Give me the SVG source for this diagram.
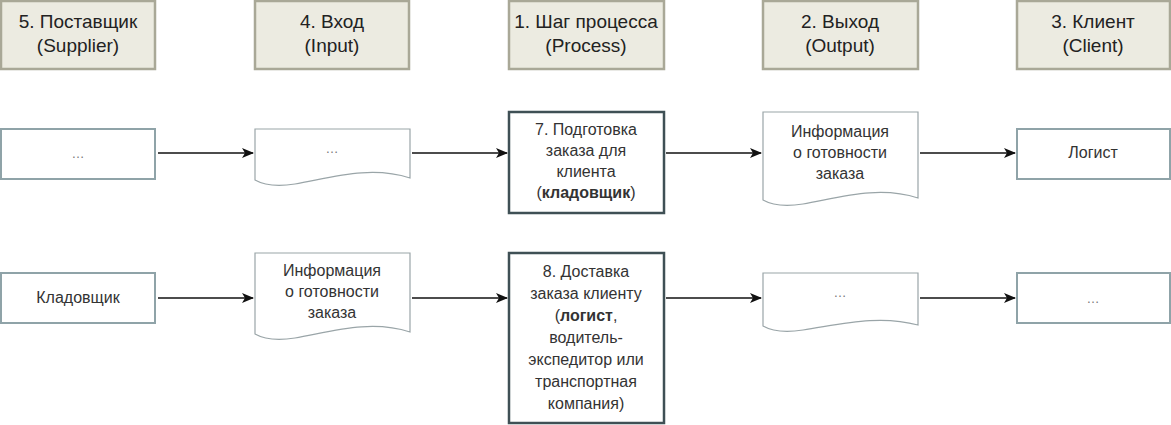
<svg xmlns="http://www.w3.org/2000/svg" width="1171" height="425" viewBox="0 0 1171 425">
<style>
text{font-family:"Liberation Sans",Arial,sans-serif;font-size:16px;fill:#333;text-anchor:middle}
.ht{font-size:19px;fill:#222}
.h{fill:#ecebe1;stroke:#a9a897;stroke-width:2.5}
.n{fill:#fff;stroke:#8fa3a8;stroke-width:2}
.p{fill:#fff;stroke:#3f5055;stroke-width:2.5}
.d{fill:#fff;stroke:#9aa5a8;stroke-width:1.2}
.c{stroke:#111;stroke-width:1.3;fill:none;marker-end:url(#a)}
.g{fill:#777;font-size:13px}
</style>
<defs><marker id="a" markerWidth="12" markerHeight="10" refX="11" refY="5" orient="auto" markerUnits="userSpaceOnUse"><path d="M0,0 L12,5 L0,10 L3,5 Z" fill="#111"/></marker></defs>
<g id="h5"><rect class="h" x="1" y="1" width="154" height="68"/><text class="ht" x="78" y="28">5. Поставщик</text><text class="ht" x="78" y="52">(Supplier)</text></g>
<g id="h4"><rect class="h" x="255" y="1" width="154" height="68"/><text class="ht" x="332" y="28">4. Вход</text><text class="ht" x="332" y="52">(Input)</text></g>
<g id="h1"><rect class="h" x="509" y="1" width="155" height="68"/><text class="ht" x="586" y="28">1. Шаг процесса</text><text class="ht" x="586" y="52">(Process)</text></g>
<g id="h2"><rect class="h" x="763" y="1" width="155" height="68"/><text class="ht" x="840" y="28">2. Выход</text><text class="ht" x="840" y="52">(Output)</text></g>
<g id="h3"><rect class="h" x="1017" y="1" width="153" height="68"/><text class="ht" x="1093" y="28">3. Клиент</text><text class="ht" x="1093" y="52">(Client)</text></g>

<g id="s1"><rect class="n" x="1" y="129" width="154" height="50"/><text class="g" x="78" y="158">…</text></g>
<g id="i1"><path class="d" d="M255,129 H410 V178 C370,165 330,178 295,184 C275,187 262,184 255,180 Z"/><text class="g" x="332" y="153">…</text></g>
<g id="p1"><rect class="p" x="509" y="112" width="155" height="101"/><text x="586" y="135">7. Подготовка</text><text x="586" y="156">заказа для</text><text x="586" y="177">клиента</text><text x="586" y="198">(<tspan font-weight="bold">кладовщик</tspan>)</text></g>
<g id="o1"><path class="d" d="M763,112 H918 V198 C878,185 838,198 803,204 C783,207 770,204 763,200 Z"/><text x="840" y="137">Информация</text><text x="840" y="158">о готовности</text><text x="840" y="179">заказа</text></g>
<g id="c1"><rect class="n" x="1017" y="129" width="153" height="50"/><text x="1093" y="158">Логист</text></g>

<g id="s2"><rect class="n" x="1" y="273" width="154" height="50"/><text x="78" y="303">Кладовщик</text></g>
<g id="i2"><path class="d" d="M255,253 H410 V332 C370,319 330,332 295,338 C275,341 262,338 255,334 Z"/><text x="332" y="276">Информация</text><text x="332" y="297">о готовности</text><text x="332" y="318">заказа</text></g>
<g id="p2"><rect class="p" x="509" y="253" width="155" height="170"/><text x="586" y="277">8. Доставка</text><text x="586" y="299">заказа клиенту</text><text x="586" y="321">(<tspan font-weight="bold">логист</tspan>,</text><text x="586" y="343">водитель-</text><text x="586" y="365">экспедитор или</text><text x="586" y="387">транспортная</text><text x="586" y="409">компания)</text></g>
<g id="o2"><path class="d" d="M763,273 H918 V325 C878,314 838,325 803,330 C783,333 770,330 763,326 Z"/><text class="g" x="840" y="297">…</text></g>
<g id="c2"><rect class="n" x="1017" y="273" width="153" height="50"/><text class="g" x="1093" y="303">…</text></g>

<g id="connectors">
<path class="c" d="M158,153 H253"/><path class="c" d="M412,153 H507"/><path class="c" d="M666,153 H761"/><path class="c" d="M920,153 H1015"/>
<path class="c" d="M158,298 H253"/><path class="c" d="M412,298 H507"/><path class="c" d="M666,298 H761"/><path class="c" d="M920,298 H1015"/>
</g>
</svg>
